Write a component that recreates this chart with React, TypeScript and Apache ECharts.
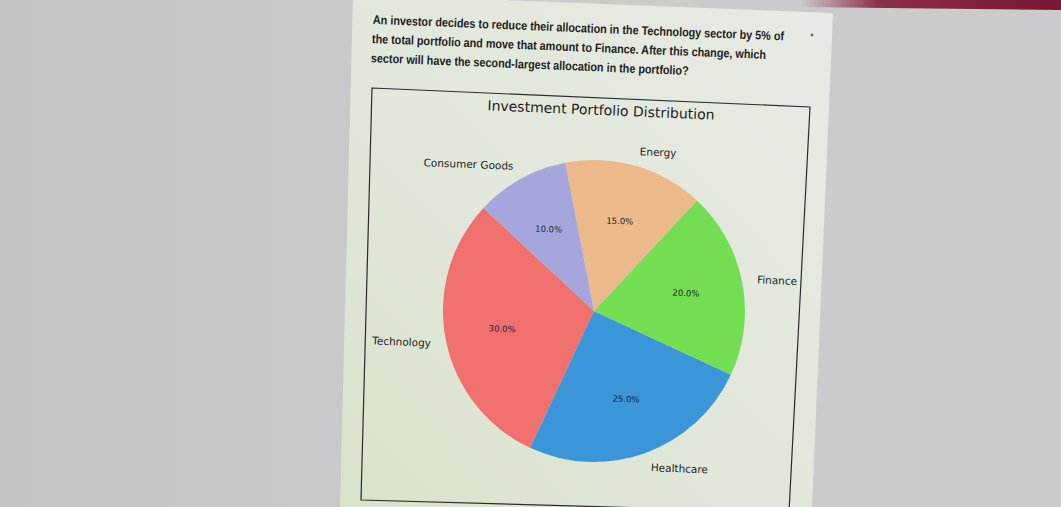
import React, { useEffect, useRef } from "react";
import * as echarts from "echarts";

const categories = ["Technology", "Healthcare", "Finance", "Energy", "Consumer Goods"];
const allocations = [30, 25, 20, 15, 10];
const sliceColors = ["#f0706e", "#3a96d8", "#74de52", "#ecb98a", "#a5a6dc"];
const chartTitle = "Investment Portfolio Distribution";
const questionLines = [
  "An investor decides to reduce their allocation in the Technology sector by 5% of",
  "the total portfolio and move that amount to Finance. After this change, which",
  "sector will have the second-largest allocation in the portfolio?",
];

const CX = 594;
const CY = 311;
const R = 151;
const TILT = -0.041;

export default function App() {
  const ref = useRef<HTMLDivElement>(null);

  useEffect(() => {
    if (!ref.current) return;
    const chart = echarts.init(ref.current, undefined, { renderer: "svg" });
    const data = categories.map((name, i) => ({
      name,
      value: allocations[i],
      itemStyle: { color: sliceColors[i] },
    }));
    const ghost = categories.map((name, i) => ({
      name,
      value: allocations[i],
      itemStyle: { color: "rgba(0,0,0,0)" },
    }));

    const questionTexts = questionLines.map((line, i) => ({
      type: "text",
      x: 373 - i * 1,
      y: 19 + i * 19.2,
      rotation: TILT,
      scaleX: 0.865,
      z: 5,
      style: {
        text: line,
        fill: "#222222",
        font: 'bold 12.5px "Liberation Sans", Arial, sans-serif',
        textAlign: "left",
        textVerticalAlign: "middle",
      },
    }));

    chart.setOption({
      animation: false,
      backgroundColor: {
        type: "linear",
        x: 0,
        y: 0,
        x2: 1,
        y2: 0,
        colorStops: [
          { offset: 0, color: "#c3c4c5" },
          { offset: 0.5, color: "#cacbcc" },
          { offset: 1, color: "#cbcbcd" },
        ],
      },
      graphic: [
        {
          type: "polygon",
          z: -20,
          shape: { points: [[800, 0], [1061, 0], [1061, 10], [800, 7]] },
          style: {
            fill: {
              type: "linear",
              x: 0,
              y: 0,
              x2: 1,
              y2: 0,
              colorStops: [
                { offset: 0, color: "rgba(130,20,50,0)" },
                { offset: 0.3, color: "rgba(130,20,50,0.85)" },
                { offset: 1, color: "#7a1532" },
              ],
            },
          },
        },
        {
          type: "polygon",
          z: -10,
          shape: { points: [[353, -6], [833, 13], [812, 507], [340, 507]] },
          style: {
            fill: {
              type: "linear",
              x: 0,
              y: 1,
              x2: 1,
              y2: 0,
              colorStops: [
                { offset: 0, color: "#d8e3ca" },
                { offset: 0.45, color: "#e1e7da" },
                { offset: 1, color: "#e7eae4" },
              ],
            },
          },
        },
        {
          type: "polygon",
          z: -5,
          shape: { points: [[372, 88], [810, 107], [789, 512], [361, 500]] },
          style: { fill: "none", stroke: "#2b2b2b", lineWidth: 1.2 },
        },
        {
          type: "circle",
          z: 5,
          shape: { cx: 812, cy: 35, r: 1.4 },
          style: { fill: "#666666" },
        },
        ...questionTexts,
        {
          type: "text",
          x: 601,
          y: 110,
          rotation: TILT,
          z: 5,
          style: {
            text: chartTitle,
            fill: "#1e1e1e",
            font: '14px "DejaVu Sans", sans-serif',
            textAlign: "center",
            textVerticalAlign: "middle",
          },
        },
      ],
      series: [
        {
          type: "pie",
          center: [CX, CY],
          radius: [0, R],
          startAngle: 137,
          clockwise: false,
          avoidLabelOverlap: false,
          silent: true,
          data,
          label: {
            show: true,
            position: "outside",
            formatter: "{b}",
            color: "#1e1e1e",
            fontFamily: "DejaVu Sans",
            fontSize: 10.5,
            rotate: -2.3,
            distanceToLabelLine: 0,
          },
          labelLine: { show: false, length: R * 0.1, length2: 0 },
          itemStyle: { borderWidth: 0 },
          emphasis: { disabled: true },
        },
        {
          type: "pie",
          center: [CX, CY],
          radius: [0, R * 1.2],
          startAngle: 137,
          clockwise: false,
          avoidLabelOverlap: false,
          silent: true,
          z: 3,
          data: ghost,
          label: {
            show: true,
            position: "inside",
            formatter: (p: any) => Number(p.percent).toFixed(1) + "%",
            color: "#1c2233",
            fontFamily: "DejaVu Sans",
            fontSize: 8.5,
            rotate: -2.3,
          },
          labelLine: { show: false },
          itemStyle: { borderWidth: 0 },
          emphasis: { disabled: true },
        },
      ],
    });
    return () => chart.dispose();
  }, []);

  return (
    <div
      ref={ref}
      style={{ position: "fixed", left: 0, top: 0, width: 1061, height: 507 }}
    />
  );
}
